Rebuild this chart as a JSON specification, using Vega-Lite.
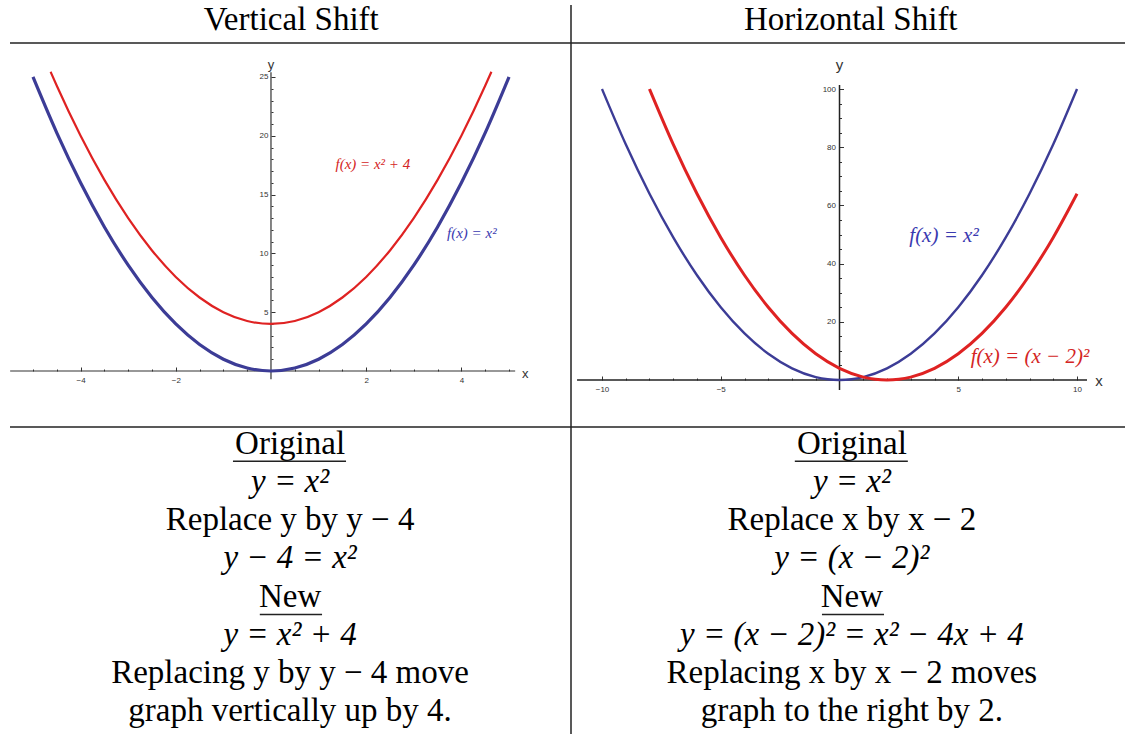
{
  "$schema": "https://vega.github.io/schema/vega-lite/v6.json",
  "background": "white",
  "padding": 0,
  "spacing": 0,
  "bounds": "flush",
  "columns": 2,
  "config": {
    "view": {"stroke": null},
    "axis": {"grid": false, "labelFont": "Liberation Sans", "labelFontSize": 8, "labelColor": "#333", "tickColor": "#333", "domain": false}
  },
  "datasets": {
    "blueL": [
      {"x": -5, "y": 25}, {"x": -4.5, "y": 20.25}, {"x": -4, "y": 16}, {"x": -3.5, "y": 12.25}, {"x": -3, "y": 9}, {"x": -2.5, "y": 6.25}, {"x": -2, "y": 4}, {"x": -1.5, "y": 2.25}, {"x": -1, "y": 1}, {"x": -0.5, "y": 0.25}, {"x": 0, "y": 0}, {"x": 0.5, "y": 0.25}, {"x": 1, "y": 1}, {"x": 1.5, "y": 2.25}, {"x": 2, "y": 4}, {"x": 2.5, "y": 6.25}, {"x": 3, "y": 9}, {"x": 3.5, "y": 12.25}, {"x": 4, "y": 16}, {"x": 4.5, "y": 20.25}, {"x": 5, "y": 25}
    ],
    "redL": [
      {"x": -4.63, "y": 25.44}, {"x": -4.5, "y": 24.25}, {"x": -4, "y": 20}, {"x": -3.5, "y": 16.25}, {"x": -3, "y": 13}, {"x": -2.5, "y": 10.25}, {"x": -2, "y": 8}, {"x": -1.5, "y": 6.25}, {"x": -1, "y": 5}, {"x": -0.5, "y": 4.25}, {"x": 0, "y": 4}, {"x": 0.5, "y": 4.25}, {"x": 1, "y": 5}, {"x": 1.5, "y": 6.25}, {"x": 2, "y": 8}, {"x": 2.5, "y": 10.25}, {"x": 3, "y": 13}, {"x": 3.5, "y": 16.25}, {"x": 4, "y": 20}, {"x": 4.5, "y": 24.25}, {"x": 4.63, "y": 25.44}
    ],
    "blueR": [
      {"x": -10, "y": 100}, {"x": -9, "y": 81}, {"x": -8, "y": 64}, {"x": -7, "y": 49}, {"x": -6, "y": 36}, {"x": -5, "y": 25}, {"x": -4, "y": 16}, {"x": -3, "y": 9}, {"x": -2, "y": 4}, {"x": -1, "y": 1}, {"x": -0.5, "y": 0.25}, {"x": 0, "y": 0}, {"x": 0.5, "y": 0.25}, {"x": 1, "y": 1}, {"x": 2, "y": 4}, {"x": 3, "y": 9}, {"x": 4, "y": 16}, {"x": 5, "y": 25}, {"x": 6, "y": 36}, {"x": 7, "y": 49}, {"x": 8, "y": 64}, {"x": 9, "y": 81}, {"x": 10, "y": 100}
    ],
    "redR": [
      {"x": -8, "y": 100}, {"x": -7, "y": 81}, {"x": -6, "y": 64}, {"x": -5, "y": 49}, {"x": -4, "y": 36}, {"x": -3, "y": 25}, {"x": -2, "y": 16}, {"x": -1, "y": 9}, {"x": 0, "y": 4}, {"x": 1, "y": 1}, {"x": 1.5, "y": 0.25}, {"x": 2, "y": 0}, {"x": 2.5, "y": 0.25}, {"x": 3, "y": 1}, {"x": 4, "y": 4}, {"x": 5, "y": 9}, {"x": 6, "y": 16}, {"x": 7, "y": 25}, {"x": 8, "y": 36}, {"x": 9, "y": 49}, {"x": 10, "y": 64}
    ]
  },
  "concat": [
    {
      "width": 571,
      "height": 43,
      "layer": [
        {
          "data": {"values": [{"x": 0.51, "y": 0.535, "label": "Vertical Shift"}]},
          "mark": {"type": "text", "font": "Liberation Serif", "fontSize": 33, "align": "center", "baseline": "middle", "color": "black"},
          "encoding": {
            "x": {"field": "x", "type": "quantitative", "scale": {"domain": [0, 1], "nice": false, "zero": false}, "axis": null},
            "y": {"field": "y", "type": "quantitative", "scale": {"domain": [0, 1], "nice": false, "zero": false}, "axis": null},
            "text": {"field": "label"}
          }
        },
        {
          "data": {"values": [{"x": 0.0175, "x2": 1, "y": 0, "y2": 0}]},
          "mark": {"type": "rule", "color": "#222", "strokeWidth": 1.5},
          "encoding": {
            "x": {"field": "x", "type": "quantitative", "scale": {"domain": [0, 1], "nice": false, "zero": false}, "axis": null},
            "x2": {"field": "x2"},
            "y": {"field": "y", "type": "quantitative", "scale": {"domain": [0, 1], "nice": false, "zero": false}, "axis": null},
            "y2": {"field": "y2"}
          }
        }
      ]
    },
    {
      "width": 554,
      "height": 43,
      "layer": [
        {
          "data": {"values": [{"x": 0.505, "y": 0.535, "label": "Horizontal Shift"}]},
          "mark": {"type": "text", "font": "Liberation Serif", "fontSize": 33, "align": "center", "baseline": "middle", "color": "black"},
          "encoding": {
            "x": {"field": "x", "type": "quantitative", "scale": {"domain": [0, 1], "nice": false, "zero": false}, "axis": null},
            "y": {"field": "y", "type": "quantitative", "scale": {"domain": [0, 1], "nice": false, "zero": false}, "axis": null},
            "text": {"field": "label"}
          }
        },
        {
          "data": {"values": [{"x": 0, "x2": 1, "y": 0, "y2": 0}, {"x": 0, "x2": 0, "y": 0, "y2": 0.884}]},
          "mark": {"type": "rule", "color": "#222", "strokeWidth": 1.5},
          "encoding": {
            "x": {"field": "x", "type": "quantitative", "scale": {"domain": [0, 1], "nice": false, "zero": false}, "axis": null},
            "x2": {"field": "x2"},
            "y": {"field": "y", "type": "quantitative", "scale": {"domain": [0, 1], "nice": false, "zero": false}, "axis": null},
            "y2": {"field": "y2"}
          }
        }
      ]
    },
    {
      "width": 571,
      "height": 384,
      "resolve": {"axis": {"x": "independent", "y": "independent"}},
      "layer": [
        {
          "data": {"values": [{"x": -5.48, "x2": 5.13, "y": 0, "y2": 0}, {"x": 0, "x2": 0, "y": -0.7, "y2": 25.4}]},
          "mark": {"type": "rule", "color": "#333", "strokeWidth": 1.2},
          "encoding": {
            "x": {"field": "x", "type": "quantitative", "scale": {"domain": [-5.693, 6.303], "nice": false, "zero": false},
                  "axis": {"orient": "bottom", "offset": -56, "values": [-5, -4.5, -3.5, -3, -2.5, -1.5, -1, -0.5, 0.5, 1, 1.5, 2.5, 3, 3.5, 4.5, 5], "labels": false, "tickSize": -2, "title": null}},
            "x2": {"field": "x2"},
            "y": {"field": "y", "type": "quantitative", "scale": {"domain": [-4.762, 27.89], "nice": false, "zero": false},
                  "axis": {"orient": "left", "offset": -271, "values": [1, 2, 3, 4, 6, 7, 8, 9, 11, 12, 13, 14, 16, 17, 18, 19, 21, 22, 23, 24], "labels": false, "tickSize": -2, "title": null}},
            "y2": {"field": "y2"}
          }
        },
        {
          "data": {"name": "blueL"},
          "mark": {"type": "line", "color": "#3c3c96", "strokeWidth": 3.2, "interpolate": "monotone"},
          "encoding": {
            "x": {"field": "x", "type": "quantitative", "scale": {"domain": [-5.693, 6.303], "nice": false, "zero": false},
                  "axis": {"orient": "bottom", "offset": -56, "values": [-4, -2, 2, 4], "tickSize": -4, "labelPadding": 9, "title": null}},
            "y": {"field": "y", "type": "quantitative", "scale": {"domain": [-4.762, 27.89], "nice": false, "zero": false},
                  "axis": {"orient": "left", "offset": -271, "values": [5, 10, 15, 20, 25], "tickSize": -4, "labelPadding": 7, "title": null}}
          }
        },
        {
          "data": {"name": "redL"},
          "mark": {"type": "line", "color": "#df2222", "strokeWidth": 2.2, "interpolate": "monotone"},
          "encoding": {
            "x": {"field": "x", "type": "quantitative", "scale": {"domain": [-5.693, 6.303], "nice": false, "zero": false}, "axis": null},
            "y": {"field": "y", "type": "quantitative", "scale": {"domain": [-4.762, 27.89], "nice": false, "zero": false}, "axis": null}
          }
        },
        {
          "data": {"values": [{"x": 2.14, "y": 17.6, "label": "f(x) = x²  + 4", "c": "red"}, {"x": 4.22, "y": 11.73, "label": "f(x) = x²", "c": "blue"}]},
          "mark": {"type": "text", "font": "Liberation Serif", "fontStyle": "italic", "fontSize": 15, "align": "center", "baseline": "middle"},
          "encoding": {
            "x": {"field": "x", "type": "quantitative", "scale": {"domain": [-5.693, 6.303], "nice": false, "zero": false}, "axis": null},
            "y": {"field": "y", "type": "quantitative", "scale": {"domain": [-4.762, 27.89], "nice": false, "zero": false}, "axis": null},
            "text": {"field": "label"},
            "color": {"field": "c", "type": "nominal", "scale": {"domain": ["red", "blue"], "range": ["#d42525", "#3a3ab0"]}, "legend": null}
          }
        },
        {
          "data": {"values": [{"x": 5.34, "y": -0.25, "label": "x"}, {"x": 0, "y": 26.0, "label": "y"}]},
          "mark": {"type": "text", "font": "Liberation Sans", "fontSize": 13, "align": "center", "baseline": "middle", "color": "#333"},
          "encoding": {
            "x": {"field": "x", "type": "quantitative", "scale": {"domain": [-5.693, 6.303], "nice": false, "zero": false}, "axis": null},
            "y": {"field": "y", "type": "quantitative", "scale": {"domain": [-4.762, 27.89], "nice": false, "zero": false}, "axis": null},
            "text": {"field": "label"}
          }
        }
      ]
    },
    {
      "width": 554,
      "height": 384,
      "resolve": {"axis": {"x": "independent", "y": "independent"}},
      "layer": [
        {
          "data": {"values": [{"x": -11.05, "x2": 10.42, "y": 0, "y2": 0}, {"x": 0, "x2": 0, "y": -3.4, "y2": 101.4}]},
          "mark": {"type": "rule", "color": "#222", "strokeWidth": 1.5},
          "encoding": {
            "x": {"field": "x", "type": "quantitative", "scale": {"domain": [-11.305, 12.02], "nice": false, "zero": false},
                  "axis": {"orient": "bottom", "offset": -47, "values": [-9, -8, -7, -6, -4, -3, -2, -1, 1, 2, 3, 4, 6, 7, 8, 9], "labels": false, "tickSize": -2, "title": null}},
            "x2": {"field": "x2"},
            "y": {"field": "y", "type": "quantitative", "scale": {"domain": [-16.15, 115.81], "nice": false, "zero": false},
                  "axis": {"orient": "left", "offset": -268.5, "values": [5, 10, 15, 25, 30, 35, 45, 50, 55, 65, 70, 75, 85, 90, 95], "labels": false, "tickSize": -2, "title": null}},
            "y2": {"field": "y2"}
          }
        },
        {
          "data": {"values": [{"x": -11.305, "x2": -11.305, "y": -16.15, "y2": 115.81}]},
          "mark": {"type": "rule", "color": "#222", "strokeWidth": 1.5},
          "encoding": {
            "x": {"field": "x", "type": "quantitative", "scale": {"domain": [-11.305, 12.02], "nice": false, "zero": false}, "axis": null},
            "x2": {"field": "x2"},
            "y": {"field": "y", "type": "quantitative", "scale": {"domain": [-16.15, 115.81], "nice": false, "zero": false}, "axis": null},
            "y2": {"field": "y2"}
          }
        },
        {
          "data": {"name": "blueR"},
          "mark": {"type": "line", "color": "#3c3c96", "strokeWidth": 2.4, "interpolate": "monotone"},
          "encoding": {
            "x": {"field": "x", "type": "quantitative", "scale": {"domain": [-11.305, 12.02], "nice": false, "zero": false},
                  "axis": {"orient": "bottom", "offset": -47, "values": [-10, -5, 5, 10], "tickSize": -4, "labelPadding": 9, "title": null}},
            "y": {"field": "y", "type": "quantitative", "scale": {"domain": [-16.15, 115.81], "nice": false, "zero": false},
                  "axis": {"orient": "left", "offset": -268.5, "values": [20, 40, 60, 80, 100], "tickSize": -4, "labelPadding": 8, "title": null}}
          }
        },
        {
          "data": {"name": "redR"},
          "mark": {"type": "line", "color": "#df2222", "strokeWidth": 3, "interpolate": "monotone"},
          "encoding": {
            "x": {"field": "x", "type": "quantitative", "scale": {"domain": [-11.305, 12.02], "nice": false, "zero": false}, "axis": null},
            "y": {"field": "y", "type": "quantitative", "scale": {"domain": [-16.15, 115.81], "nice": false, "zero": false}, "axis": null}
          }
        },
        {
          "data": {"values": [{"x": 4.4, "y": 49.5, "label": "f(x) = x²", "c": "blue"}, {"x": 8.02, "y": 7.9, "label": "f(x) = (x − 2)²", "c": "red"}]},
          "mark": {"type": "text", "font": "Liberation Serif", "fontStyle": "italic", "fontSize": 21, "align": "center", "baseline": "middle"},
          "encoding": {
            "x": {"field": "x", "type": "quantitative", "scale": {"domain": [-11.305, 12.02], "nice": false, "zero": false}, "axis": null},
            "y": {"field": "y", "type": "quantitative", "scale": {"domain": [-16.15, 115.81], "nice": false, "zero": false}, "axis": null},
            "text": {"field": "label"},
            "color": {"field": "c", "type": "nominal", "scale": {"domain": ["red", "blue"], "range": ["#d42525", "#3a3ab0"]}, "legend": null}
          }
        },
        {
          "data": {"values": [{"x": 10.93, "y": -0.3, "label": "x"}, {"x": 0, "y": 108.2, "label": "y"}]},
          "mark": {"type": "text", "font": "Liberation Sans", "fontSize": 15, "align": "center", "baseline": "middle", "color": "#333"},
          "encoding": {
            "x": {"field": "x", "type": "quantitative", "scale": {"domain": [-11.305, 12.02], "nice": false, "zero": false}, "axis": null},
            "y": {"field": "y", "type": "quantitative", "scale": {"domain": [-16.15, 115.81], "nice": false, "zero": false}, "axis": null},
            "text": {"field": "label"}
          }
        }
      ]
    },
    {
      "width": 571,
      "height": 307,
      "layer": [
        {
          "data": {"values": [
            {"x": 0.508, "row": 1, "label": "Original"},
            {"x": 0.508, "row": 3, "label": "Replace y by y − 4"},
            {"x": 0.508, "row": 5, "label": "New"},
            {"x": 0.508, "row": 7, "label": "Replacing y by y − 4 move"},
            {"x": 0.508, "row": 8, "label": "graph vertically up by 4."}
          ]},
          "mark": {"type": "text", "font": "Liberation Serif", "fontSize": 33, "align": "center", "baseline": "alphabetic", "color": "black"},
          "encoding": {
            "x": {"field": "x", "type": "quantitative", "scale": {"domain": [0, 1], "nice": false, "zero": false}, "axis": null},
            "y": {"field": "row", "type": "quantitative", "scale": {"domain": [0.292, 8.341], "reverse": true, "nice": false, "zero": false}, "axis": null},
            "text": {"field": "label"}
          }
        },
        {
          "data": {"values": [
            {"x": 0.508, "row": 2, "label": "y = x²"},
            {"x": 0.508, "row": 4, "label": "y − 4 = x²"},
            {"x": 0.508, "row": 6, "label": "y = x² + 4"}
          ]},
          "mark": {"type": "text", "font": "Liberation Serif", "fontStyle": "italic", "fontSize": 33, "align": "center", "baseline": "alphabetic", "color": "black"},
          "encoding": {
            "x": {"field": "x", "type": "quantitative", "scale": {"domain": [0, 1], "nice": false, "zero": false}, "axis": null},
            "y": {"field": "row", "type": "quantitative", "scale": {"domain": [0.292, 8.341], "reverse": true, "nice": false, "zero": false}, "axis": null},
            "text": {"field": "label"}
          }
        },
        {
          "data": {"values": [
            {"x": 0.0175, "x2": 1, "row": 0.292, "row2": 0.292},
            {"x": 0.408, "x2": 0.606, "row": 1.19, "row2": 1.19},
            {"x": 0.455, "x2": 0.564, "row": 5.21, "row2": 5.21}
          ]},
          "mark": {"type": "rule", "color": "#222", "strokeWidth": 1.5},
          "encoding": {
            "x": {"field": "x", "type": "quantitative", "scale": {"domain": [0, 1], "nice": false, "zero": false}, "axis": null},
            "x2": {"field": "x2"},
            "y": {"field": "row", "type": "quantitative", "scale": {"domain": [0.292, 8.341], "reverse": true, "nice": false, "zero": false}, "axis": null},
            "y2": {"field": "row2"}
          }
        }
      ]
    },
    {
      "width": 554,
      "height": 307,
      "layer": [
        {
          "data": {"values": [
            {"x": 0.507, "row": 1, "label": "Original"},
            {"x": 0.507, "row": 3, "label": "Replace x by x − 2"},
            {"x": 0.507, "row": 5, "label": "New"},
            {"x": 0.507, "row": 7, "label": "Replacing x by x − 2 moves"},
            {"x": 0.507, "row": 8, "label": "graph to the right by 2."}
          ]},
          "mark": {"type": "text", "font": "Liberation Serif", "fontSize": 33, "align": "center", "baseline": "alphabetic", "color": "black"},
          "encoding": {
            "x": {"field": "x", "type": "quantitative", "scale": {"domain": [0, 1], "nice": false, "zero": false}, "axis": null},
            "y": {"field": "row", "type": "quantitative", "scale": {"domain": [0.292, 8.341], "reverse": true, "nice": false, "zero": false}, "axis": null},
            "text": {"field": "label"}
          }
        },
        {
          "data": {"values": [
            {"x": 0.507, "row": 2, "label": "y = x²"},
            {"x": 0.507, "row": 4, "label": "y = (x − 2)²"},
            {"x": 0.507, "row": 6, "label": "y = (x − 2)² = x² − 4x + 4"}
          ]},
          "mark": {"type": "text", "font": "Liberation Serif", "fontStyle": "italic", "fontSize": 33, "align": "center", "baseline": "alphabetic", "color": "black"},
          "encoding": {
            "x": {"field": "x", "type": "quantitative", "scale": {"domain": [0, 1], "nice": false, "zero": false}, "axis": null},
            "y": {"field": "row", "type": "quantitative", "scale": {"domain": [0.292, 8.341], "reverse": true, "nice": false, "zero": false}, "axis": null},
            "text": {"field": "label"}
          }
        },
        {
          "data": {"values": [
            {"x": 0, "x2": 1, "row": 0.292, "row2": 0.292},
            {"x": 0, "x2": 0, "row": 0.292, "row2": 8.341},
            {"x": 0.404, "x2": 0.608, "row": 1.19, "row2": 1.19},
            {"x": 0.453, "x2": 0.565, "row": 5.21, "row2": 5.21}
          ]},
          "mark": {"type": "rule", "color": "#222", "strokeWidth": 1.5},
          "encoding": {
            "x": {"field": "x", "type": "quantitative", "scale": {"domain": [0, 1], "nice": false, "zero": false}, "axis": null},
            "x2": {"field": "x2"},
            "y": {"field": "row", "type": "quantitative", "scale": {"domain": [0.292, 8.341], "reverse": true, "nice": false, "zero": false}, "axis": null},
            "y2": {"field": "row2"}
          }
        }
      ]
    }
  ]
}
